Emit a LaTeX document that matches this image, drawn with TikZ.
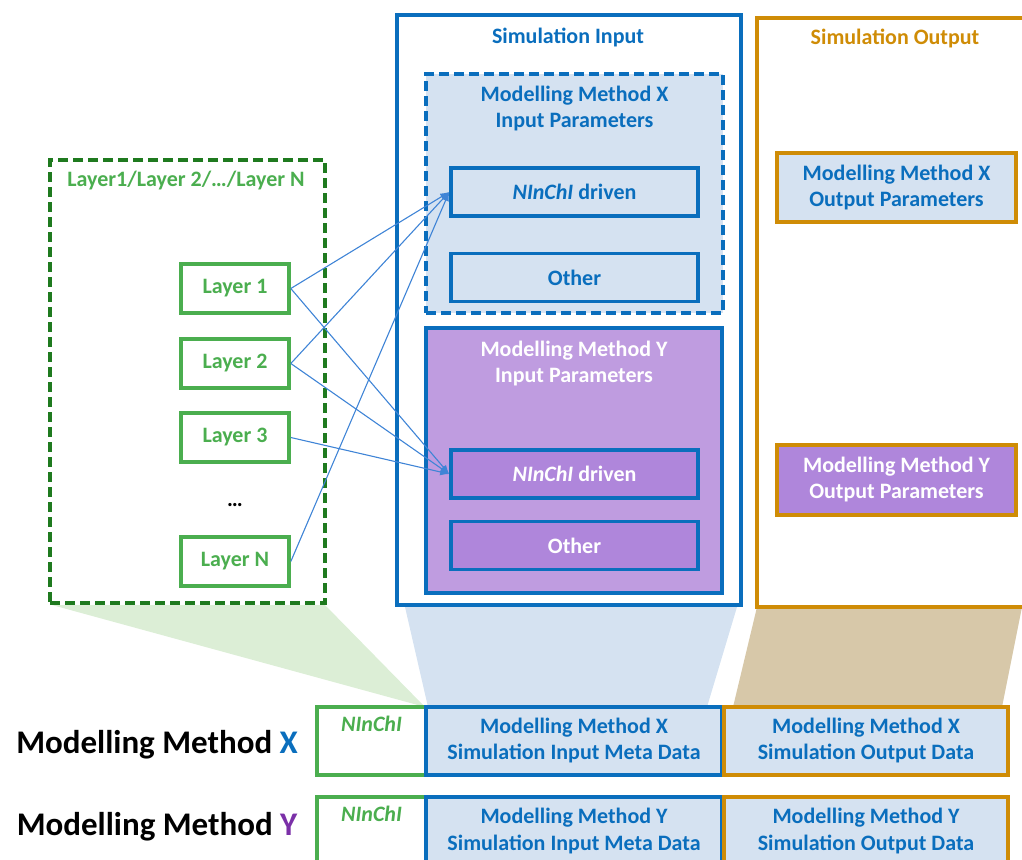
\documentclass[tikz,border=0pt]{standalone}
\usepackage{fontspec}
\setmainfont{Carlito}
\usetikzlibrary{arrows.meta}

\definecolor{simblue}{HTML}{0A6EBD}
\definecolor{lblue}{HTML}{D5E2F1}
\definecolor{laygreen}{HTML}{4BAE4F}
\definecolor{dgreen}{HTML}{1F7A1F}
\definecolor{lgreen}{HTML}{DCEED6}
\definecolor{outorange}{HTML}{CF8C06}
\definecolor{tanfill}{HTML}{D7C8A9}
\definecolor{lpurple}{HTML}{BF9CE0}
\definecolor{mpurple}{HTML}{AF86DB}
\definecolor{ypurple}{HTML}{7B30A8}
\definecolor{arrblue}{HTML}{3F84D6}

\begin{document}
\begin{tikzpicture}[x=1pt, y=-1pt, font=\fontsize{22}{26}\selectfont\bfseries,
    every node/.style={align=center},
    box/.style={draw, line width=3.6pt, inner sep=0pt},
    dashbox/.style={box, dash pattern=on 10pt off 5pt},
    layer/.style={box, draw=laygreen, text=laygreen, minimum width=108, minimum height=49},
    drive/.style={box, draw=simblue, minimum width=247, minimum height=48},
    arr/.style={-{Latex[length=9pt,width=7pt]}, arrblue, line width=1.1pt}]
  \useasboundingbox (0,0) rectangle (1022,859);
  \clip (0,0) rectangle (1022,859);

  % funnels down to the data rows
  \fill[lgreen] (52,605) -- (325,605) -- (425,707) -- cycle;
  \fill[lblue] (405,607) -- (737,607) -- (707,707) -- (428,707) -- cycle;
  \fill[tanfill] (757,607) -- (1022,607) -- (1002,707) -- (733,707) -- cycle;

  % layers
  \node[dashbox, draw=dgreen, minimum width=275, minimum height=443] (layers) at (187.5,381.5) {};
  \node[text=laygreen] (laytitle) at (186,181) {Layer1/Layer 2/\dots/Layer N};
  \node[layer] (lay1) at (235,288.5) {Layer 1};
  \node[layer] (lay2) at (235,363.5) {Layer 2};
  \node[layer] (lay3) at (235,437.5) {Layer 3};
  \node (dots) at (235,505) {\dots};
  \node[layer] (layN) at (235,561.5) {Layer N};

  % simulation input
  \node[box, draw=simblue, minimum width=344, minimum height=590] (simin) at (569,310) {};
  \node[text=simblue] (simintitle) at (568,37) {Simulation Input};
  \node[dashbox, draw=simblue, fill=lblue, minimum width=297, minimum height=239] (inX) at (574.5,193.5) {};
  \node[text=simblue] (inXtitle) at (574.5,109) {Modelling Method X\\Input Parameters};
  \node[drive, fill=lblue, text=simblue] (drvX) at (574.5,192) {\textit{NInChI} driven};
  \node[drive, fill=lblue, text=simblue] (othX) at (574.5,277.5) {Other};
  \node[box, draw=simblue, fill=lpurple, minimum width=296, minimum height=265] (inY) at (574,460.5) {};
  \node[text=white] (inYtitle) at (574,364) {Modelling Method Y\\Input Parameters};
  \node[drive, fill=mpurple, text=white] (drvY) at (574.5,474) {\textit{NInChI} driven};
  \node[drive, fill=mpurple, text=white] (othY) at (574.5,545.5) {Other};

  % simulation output
  \node[box, draw=outorange, minimum width=275, minimum height=589, anchor=north west] (simout) at (755,16) {};
  \node[text=outorange] (simouttitle) at (895,38) {Simulation Output};
  \node[box, draw=outorange, fill=lblue, text=simblue, minimum width=239, minimum height=69] (outX) at (896.5,187.5) {Modelling Method X\\Output Parameters};
  \node[box, draw=outorange, fill=mpurple, text=white, minimum width=239, minimum height=70] (outY) at (896.5,480) {Modelling Method Y\\Output Parameters};

  % data rows
  \foreach \m/\c/\y/\ly in {X/simblue/741/745, Y/ypurple/831/827} {
    \node[font=\fontsize{33}{36}\selectfont\bfseries] (lab\m) at (157,\ly) {Modelling Method \textcolor{\c}{\m}};
    \node[box, draw=laygreen, text=laygreen, minimum width=109, minimum height=68] (nin\m) at (371.5,\y) {\textit{NInChI}\\\strut};
    \node[box, draw=simblue, fill=lblue, text=simblue, minimum width=296, minimum height=68] (meta\m) at (574,\y) {Modelling Method \m\\Simulation Input Meta Data};
    \node[box, draw=outorange, fill=lblue, text=simblue, minimum width=284, minimum height=68] (data\m) at (866,\y) {Modelling Method \m\\Simulation Output Data};
  }

  \path[arr]
    (lay1.east) edge (drvX.west)
    (lay1.east) edge (drvY.west)
    (lay2.east) edge (drvX.west)
    (lay2.east) edge (drvY.west)
    (lay3.east) edge (drvY.west)
    (layN.east) edge (drvX.west);
\end{tikzpicture}
\end{document}
